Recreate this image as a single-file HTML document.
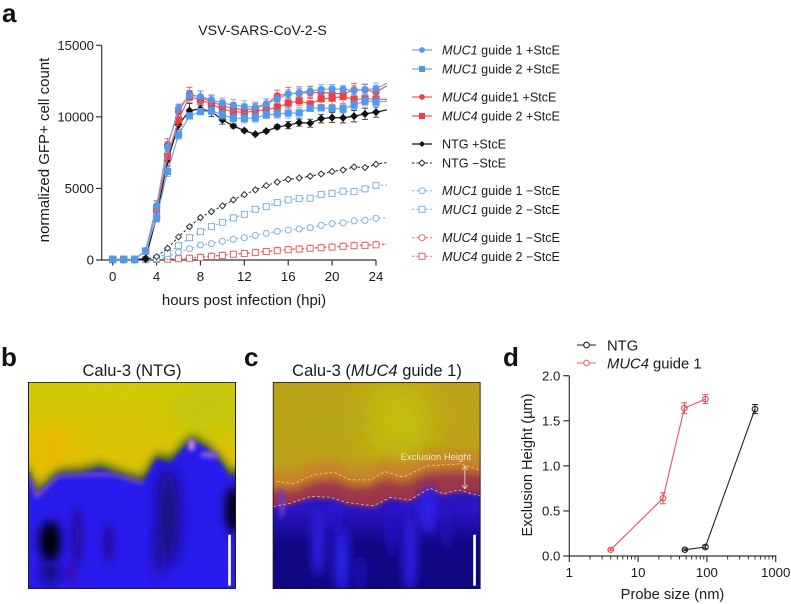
<!DOCTYPE html>
<html lang="en">
<head>
<meta charset="utf-8">
<title>VSV-SARS-CoV-2-S figure</title>
<style>
html,body{margin:0;padding:0;background:#fff;width:791px;height:604px;overflow:hidden}
svg{display:block;position:absolute;left:0;top:0}
text{font-family:"Liberation Sans",Arial,sans-serif;fill:#1a1a1a}
.tick{font-size:13.2px}
.title{font-size:15px}
.leg{font-size:12.6px}
.letter{font-size:26px;font-weight:bold;fill:#111}
.micro{font-size:16.5px}
</style>
</head>
<body>
<svg id="fig" width="791" height="604" viewBox="0 0 791 604" xmlns="http://www.w3.org/2000/svg">
  <defs>
    <filter id="b3" filterUnits="userSpaceOnUse" x="-200" y="-200" width="1400" height="1400"><feGaussianBlur stdDeviation="6"/></filter>
    <filter id="b8" filterUnits="userSpaceOnUse" x="-200" y="-200" width="1400" height="1400"><feGaussianBlur stdDeviation="14"/></filter>
    <filter id="b14" filterUnits="userSpaceOnUse" x="-200" y="-200" width="1400" height="1400"><feGaussianBlur stdDeviation="24"/></filter>
    <filter id="b24" filterUnits="userSpaceOnUse" x="-200" y="-200" width="1400" height="1400"><feGaussianBlur stdDeviation="42"/></filter>
    <filter id="grain" filterUnits="userSpaceOnUse" x="0" y="0" width="800" height="800"><feTurbulence type="fractalNoise" baseFrequency="0.55" numOctaves="2" seed="4"/><feColorMatrix type="matrix" values="0 0 0 0 0  0 0 0 0 0  0 0 0 0 0  1.6 0 0 0 -0.55"/></filter>
    <linearGradient id="yellowB" x1="0" y1="0" x2="0" y2="1">
      <stop offset="0" stop-color="#d6cf08"/><stop offset="0.5" stop-color="#e6c606"/><stop offset="1" stop-color="#e0b800"/>
    </linearGradient>
    <linearGradient id="navyC" x1="0" y1="0" x2="0" y2="1">
      <stop offset="0" stop-color="#100888" stop-opacity="0"/><stop offset="0.45" stop-color="#100888" stop-opacity="1"/><stop offset="1" stop-color="#100888" stop-opacity="1"/>
    </linearGradient>
    <clipPath id="clipB"><rect x="84" y="126" width="624" height="622"/></clipPath>
    <clipPath id="clipC"><rect x="38" y="126" width="624" height="622"/></clipPath>
  </defs>

  <text class="letter" x="2" y="22">a</text>
  <text class="letter" x="1" y="366">b</text>
  <text class="letter" x="244" y="366">c</text>
  <text class="letter" x="503" y="366">d</text>

  <text x="262.5" y="35" text-anchor="middle" style="font-size:14.1px">VSV-SARS-CoV-2-S</text>
  <text class="title" x="244" y="305" text-anchor="middle">hours post infection (hpi)</text>
  <text class="title" transform="translate(49,150) rotate(-90)" text-anchor="middle">normalized GFP+ cell count</text>
  <g id="chartA"></g>

  <g>
    <g><line x1="412" x2="432" y1="50" y2="50" stroke="#6aa7ea" stroke-width="1.2"/><circle cx="422" cy="50" r="2.9" fill="#4f98ea"/><text class="leg" x="442" y="54.5"><tspan font-style="italic">MUC1</tspan> guide 1 +StcE</text></g>
    <g><line x1="412" x2="432" y1="69" y2="69" stroke="#6aa7ea" stroke-width="1.2"/><rect x="419" y="66" width="6" height="6" fill="#4f98ea"/><text class="leg" x="442" y="73.5"><tspan font-style="italic">MUC1</tspan> guide 2 +StcE</text></g>
    <g><line x1="412" x2="432" y1="97" y2="97" stroke="#ee5a60" stroke-width="1.2"/><circle cx="422" cy="97" r="2.9" fill="#ee3f44"/><text class="leg" x="442" y="101.5"><tspan font-style="italic">MUC4</tspan> guide1 +StcE</text></g>
    <g><line x1="412" x2="432" y1="116" y2="116" stroke="#ee5a60" stroke-width="1.2"/><rect x="419" y="113" width="6" height="6" fill="#ee3f44"/><text class="leg" x="442" y="120.5"><tspan font-style="italic">MUC4</tspan> guide 2 +StcE</text></g>
    <g><line x1="412" x2="432" y1="144" y2="144" stroke="#111" stroke-width="1.2"/><path d="M422 141 L425 144 L422 147 L419 144 Z" fill="#111"/><text class="leg" x="442" y="148.5">NTG +StcE</text></g>
    <g><line x1="412" x2="432" y1="163" y2="163" stroke="#222" stroke-width="1" stroke-dasharray="2.5 2"/><path d="M422 160 L425 163 L422 166 L419 163 Z" fill="#fff" stroke="#333"/><text class="leg" x="442" y="167.5">NTG −StcE</text></g>
    <g><line x1="412" x2="432" y1="190.7" y2="190.7" stroke="#7fb0e2" stroke-width="1" stroke-dasharray="2.5 2"/><circle cx="422" cy="190.7" r="3" fill="#fff" stroke="#7fb0e2"/><text class="leg" x="442" y="195.2"><tspan font-style="italic">MUC1</tspan> guide 1 −StcE</text></g>
    <g><line x1="412" x2="432" y1="209.3" y2="209.3" stroke="#7fb0e2" stroke-width="1" stroke-dasharray="2.5 2"/><rect x="419" y="206.3" width="6" height="6" fill="#fff" stroke="#7fb0e2"/><text class="leg" x="442" y="213.8"><tspan font-style="italic">MUC1</tspan> guide 2 −StcE</text></g>
    <g><line x1="412" x2="432" y1="237.7" y2="237.7" stroke="#e2666c" stroke-width="1" stroke-dasharray="2.5 2"/><circle cx="422" cy="237.7" r="3" fill="#fff" stroke="#e2666c"/><text class="leg" x="442" y="242.2"><tspan font-style="italic">MUC4</tspan> guide 1 −StcE</text></g>
    <g><line x1="412" x2="432" y1="256.3" y2="256.3" stroke="#e2666c" stroke-width="1" stroke-dasharray="2.5 2"/><rect x="419" y="253.3" width="6" height="6" fill="#fff" stroke="#e2666c"/><text class="leg" x="442" y="260.8"><tspan font-style="italic">MUC4</tspan> guide 2 −StcE</text></g>
  </g>

  <text class="micro" x="132" y="376" text-anchor="middle">Calu-3 (NTG)</text>
  <svg x="28" y="382" width="208" height="207" viewBox="84 126 624 622">
    <g clip-path="url(#clipB)">
      <rect x="84" y="126" width="624" height="622" fill="url(#yellowB)"/>
      <ellipse cx="620" cy="210" rx="120" ry="60" fill="#c4cc0c" filter="url(#b24)"/>
      <ellipse cx="160" cy="320" rx="80" ry="50" fill="#f6ba00" filter="url(#b24)"/>
      <path d="M60 400 L84 400 L110 465 L175 405 L250 400 L300 385 L340 400 L400 420 L430 425 L470 355 L510 370 L545 330 L575 300 L620 325 L665 370 L690 410 L740 395 L740 780 L60 780 Z" fill="#3c5a30" transform="translate(0,-16)" filter="url(#b8)"/>
      <path d="M60 400 L84 400 L110 465 L175 405 L250 400 L300 385 L340 400 L400 420 L430 425 L470 355 L510 370 L545 330 L575 300 L620 325 L665 370 L690 410 L740 395 L740 780 L60 780 Z" fill="#2c1ef4" filter="url(#b3)"/>
      <ellipse cx="150" cy="605" rx="32" ry="62" fill="#050308" filter="url(#b8)"/>
      <ellipse cx="150" cy="700" rx="28" ry="36" fill="#180c88" filter="url(#b8)"/>
      <ellipse cx="232" cy="590" rx="11" ry="90" fill="#28087a" filter="url(#b8)"/>
      <ellipse cx="215" cy="700" rx="8" ry="36" fill="#50087c" filter="url(#b8)"/>
      <ellipse cx="326" cy="610" rx="10" ry="60" fill="#22086e" filter="url(#b8)"/>
      <ellipse cx="505" cy="530" rx="28" ry="150" fill="#120a60" filter="url(#b14)"/>
      <ellipse cx="475" cy="650" rx="12" ry="70" fill="#221296" filter="url(#b8)"/>
      <ellipse cx="700" cy="510" rx="24" ry="70" fill="#04020c" filter="url(#b8)"/>
      <ellipse cx="575" cy="315" rx="11" ry="18" fill="#c890e0" filter="url(#b3)"/>
      <ellipse cx="630" cy="345" rx="30" ry="10" fill="#8060e8" filter="url(#b3)"/>
      <path d="M84 405 L110 470 L175 408 L250 404 L340 404 L430 430" fill="none" stroke="#8a58d0" stroke-width="8" filter="url(#b3)"/>
      <rect x="84" y="126" width="624" height="622" filter="url(#grain)" opacity=".1"/>
      <rect x="685" y="585" width="8" height="153" fill="#fff"/>
    </g>
    <rect x="85" y="127" width="622" height="620" fill="none" stroke="#1a1a1a" stroke-width="3"/>
  </svg>

  <text class="micro" x="377" y="376" text-anchor="middle">Calu-3 (<tspan font-style="italic">MUC4</tspan> guide 1)</text>
  <svg x="272.7" y="382" width="208" height="207" viewBox="38 126 624 622">
    <g clip-path="url(#clipC)">
      <rect x="38" y="126" width="624" height="622" fill="#c4aa1a"/>
      <ellipse cx="410" cy="240" rx="110" ry="110" fill="#ccc60e" filter="url(#b24)"/>
      <ellipse cx="200" cy="240" rx="130" ry="60" fill="#c0ae16" filter="url(#b24)"/>
      <path d="M0 385 L100 392 L160 365 L220 357 L270 380 L330 380 L375 355 L430 372 L500 338 L600 332 L720 350 L720 770 L0 770 Z" fill="#d08c2c" filter="url(#b8)"/>
      <path d="M0 445 L100 452 L160 425 L220 417 L270 440 L330 440 L375 415 L430 432 L500 398 L600 392 L720 410 L720 770 L0 770 Z" fill="#a4384e" filter="url(#b8)"/>
      <path d="M0 500 L90 490 L150 470 L210 472 L260 488 L340 498 L390 473 L450 480 L510 445 L550 462 L595 450 L720 468 L720 770 L0 770 Z" fill="#2e14cc" transform="translate(0,6)" filter="url(#b3)"/>
      <rect x="38" y="510" width="624" height="238" fill="url(#navyC)"/>
      <ellipse cx="65" cy="490" rx="8" ry="45" fill="#6a40d8" filter="url(#b3)"/>
      <ellipse cx="175" cy="610" rx="20" ry="100" fill="#2e20ee" filter="url(#b8)"/>
      <ellipse cx="245" cy="660" rx="24" ry="100" fill="#2e20f4" filter="url(#b8)"/>
      <ellipse cx="225" cy="530" rx="10" ry="50" fill="#2c1cea" filter="url(#b8)"/>
      <ellipse cx="395" cy="570" rx="14" ry="80" fill="#2818d0" filter="url(#b8)"/>
      <ellipse cx="450" cy="640" rx="22" ry="115" fill="#2e20ee" filter="url(#b8)"/>
      <ellipse cx="505" cy="510" rx="26" ry="70" fill="#3020f4" filter="url(#b8)"/>
      <ellipse cx="560" cy="560" rx="10" ry="80" fill="#2212c0" filter="url(#b8)"/>
      <ellipse cx="300" cy="700" rx="14" ry="50" fill="#2014c8" filter="url(#b8)"/>
      <rect x="38" y="126" width="624" height="622" filter="url(#grain)" opacity=".16"/>
      <path d="M50 425 L100 432 L160 405 L220 397 L270 420 L330 420 L375 395 L430 412 L500 378 L600 372 L660 390" fill="none" stroke="#f4d890" stroke-width="2.2" stroke-dasharray="8 7"/>
      <path d="M40 500 L90 490 L150 470 L210 472 L260 488 L340 498 L390 473 L450 480 L510 445 L550 462 L595 450 L660 468" fill="none" stroke="#f0c8e8" stroke-width="2.2" stroke-dasharray="8 7"/>
      <g stroke="#f4e0d0" stroke-width="2.4" fill="none">
        <line x1="615" y1="380" x2="615" y2="445"/>
        <path d="M607 390 L615 379 L623 390 M607 436 L615 447 L623 436"/>
      </g>
      <text x="422" y="361" style="font-size:28.5px;fill:#f2ecc4">Exclusion Height</text>
      <rect x="640" y="585" width="8" height="153" fill="#fff"/>
    </g>
    <rect x="39" y="127" width="622" height="620" fill="none" stroke="#1a1a1a" stroke-width="3"/>
  </svg>

  <g>
    <g><line x1="577" x2="596" y1="345" y2="345" stroke="#222" stroke-width="1.1"/><circle cx="586.5" cy="345" r="2.8" fill="#fff" stroke="#222" stroke-width="1.1"/><text x="607" y="350.5" style="font-size:14.8px">NTG</text></g>
    <g><line x1="577" x2="596" y1="363" y2="363" stroke="#e2666c" stroke-width="1.1"/><circle cx="586.5" cy="363" r="2.8" fill="#fff" stroke="#e2666c" stroke-width="1.1"/><text x="607" y="368.5" style="font-size:14.8px"><tspan font-style="italic">MUC4</tspan> guide 1</text></g>
  </g>
  <text class="title" x="672.5" y="599" text-anchor="middle" style="font-size:14.7px">Probe size (nm)</text>
  <text class="title" transform="translate(532,465) rotate(-90)" text-anchor="middle" style="font-size:14.6px">Exclusion Height (µm)</text>
  <g id="chartD"></g>
</svg>

<script>
// ---- Panel a data ----
const hours = [0,1,2,3,4,5,6,7,8,9,10,11,12,13,14,15,16,17,18,19,20,21,22,23,24,25];
const aXTicks = [0,4,8,12,16,20,24];
const aYTicks = [0,5000,10000,15000];
const muc4g1Minus = [20,20,20,30,50,70,100,140,210,280,350,420,470,540,610,680,750,790,840,890,930,980,1030,1050,1100,1120];
const muc4g2Minus = [20,20,20,30,40,60,90,120,180,250,320,400,450,520,590,650,720,760,810,860,900,950,1000,1020,1060,1080];
const muc1g1Minus = [20,20,20,30,70,230,540,790,1050,1140,1310,1450,1560,1720,1860,2000,2100,2170,2260,2420,2540,2590,2730,2770,2910,2960];
const muc1g2Minus = [20,20,20,30,120,470,1000,1560,1980,2330,2630,2940,3190,3540,3730,4010,4200,4290,4310,4570,4660,4800,4780,4970,5220,5240];
const ntgMinus = [20,20,20,30,230,820,1610,2330,2960,3380,3780,4200,4570,4900,5200,5450,5640,5730,5850,6010,6180,6290,6500,6460,6690,6810];
const ntgPlus = [30,30,30,100,3000,6950,9440,10440,10560,10370,9790,9370,9040,8790,9000,9300,9420,9600,9560,9880,9950,9930,10050,10210,10330,10490];
const muc4g1Plus = [50,50,50,650,3730,8040,10370,11610,11350,11070,10770,10600,10490,10580,10900,11470,11610,11660,11700,11700,11660,11610,11890,11890,11730,12170];
const muc4g2Plus = [50,50,50,620,3500,7230,9790,11420,11190,10900,10540,10370,10300,10420,10490,10680,10960,11120,10900,11260,11310,11420,11210,11260,11240,11220];
const muc1g2Plus = [50,50,50,630,2960,6180,8740,10070,10370,10420,10140,9900,9880,9930,10140,10210,10260,10280,10600,10630,10580,10580,10820,11120,11030,11100];
const muc1g1Plus = [50,50,50,630,3800,7880,10600,11500,11420,11190,10960,10820,10720,10680,10900,11240,11590,11700,11800,11910,11960,11930,11840,11910,11960,12350];
const ntgPlusErr = [0,0,0,30,300,350,300,500,250,350,300,150,100,80,100,150,250,250,280,300,350,350,400,400,350,0];
const muc4g1PlusErr = [0,0,0,60,400,450,500,450,450,400,400,400,400,350,350,400,450,450,400,350,350,400,450,400,450,0];
const muc4g2PlusErr = [0,0,0,60,350,400,400,400,350,300,350,350,350,300,300,350,350,350,450,400,450,500,350,400,350,0];
const muc1g2PlusErr = [0,0,0,50,300,350,300,200,200,250,300,350,300,300,250,300,350,350,200,200,200,300,300,350,350,0];
const muc1g1PlusErr = [0,0,0,50,350,400,300,350,400,350,350,400,400,350,350,300,300,300,350,350,300,250,350,350,400,0];

// ---- Panel d data ----
const dXTicks = [1,10,100,1000];
const dXMinor = [2,3,4,5,6,7,8,9,20,30,40,50,60,70,80,90,200,300,400,500,600,700,800,900];
const dYTicks = [0,0.5,1.0,1.5,2.0];
const ntgSize = [48,95,500];
const ntgHeight = [0.07,0.10,1.63];
const ntgHeightErr = [0.01,0.02,0.05];
const muc4Size = [4,23,47,95];
const muc4Height = [0.07,0.64,1.64,1.74];
const muc4HeightErr = [0.01,0.06,0.06,0.05];

// ---- Axis functions ----
const ax = h => 112.7 + h * 10.97;
const ay = v => 260 - v * 214.7 / 15000;
const dx = s => 569.3 + Math.log10(s) * 68.8;
const dy = v => 556 - v * 90.15;

const NS = 'http://www.w3.org/2000/svg';
function mk(parent, tag, attrs) {
  const el = document.createElementNS(NS, tag);
  for (const k in attrs) el.setAttribute(k, attrs[k]);
  parent.appendChild(el);
  return el;
}
function pts(xs, ys, fx, fy) {
  return xs.map((x, i) => fx(x).toFixed(2) + ',' + fy(ys[i]).toFixed(2)).join(' ');
}
function marker(g, shape, x, y, fill, stroke, filled) {
  const r = filled ? (shape === 'diamond' ? 3.3 : 3.6) : 3;
  if (shape === 'circle') return mk(g, 'circle', {cx: x, cy: y, r: r, fill: fill, stroke: filled ? 'none' : stroke, 'stroke-width': 1});
  if (shape === 'square') return mk(g, 'rect', {x: x - r, y: y - r, width: 2 * r, height: 2 * r, fill: fill, stroke: filled ? 'none' : stroke, 'stroke-width': 1});
  return mk(g, 'path', {d: 'M' + x + ' ' + (y - r) + 'L' + (x + r) + ' ' + y + 'L' + x + ' ' + (y + r) + 'L' + (x - r) + ' ' + y + 'Z', fill: fill, stroke: stroke, 'stroke-width': 1});
}

// ---- Panel a drawing ----
const chartA = document.getElementById('chartA');
const axisColor = '#333';
const aYAxis = mk(chartA, 'line', {x1: 101.7, x2: 101.7, y1: ay(15000), y2: ay(0), stroke: axisColor, 'stroke-width': 1.2});


const aXAxis = mk(chartA, 'line', {x1: 101.1, x2: ax(24), y1: ay(0), y2: ay(0), stroke: axisColor, 'stroke-width': 1.2});


aYTicks.forEach(v => {
  mk(chartA, 'line', {x1: 96, x2: 101.7, y1: ay(v), y2: ay(v), stroke: axisColor, 'stroke-width': 1.2});
  const t = mk(chartA, 'text', {x: 94, y: ay(v) + 4.6, 'text-anchor': 'end', class: 'tick'});
  
  
  t.textContent = v;
});
aXTicks.forEach(h => {
  mk(chartA, 'line', {x1: ax(h), x2: ax(h), y1: ay(0), y2: ay(0) + 5.5, stroke: axisColor, 'stroke-width': 1.2});
  const t = mk(chartA, 'text', {x: ax(h), y: 281, 'text-anchor': 'middle', class: 'tick'});
  
  
  t.textContent = h;
});

const blueLine = '#6aa7ea', blueFill = '#5299ec', redLine = '#ee5a60', redFill = '#ee3f44';
const blueOpen = '#7fb0e2', redOpen = '#e2666c';
const seriesNames = ['muc4-guide1-minus','muc4-guide2-minus','muc1-guide1-minus','muc1-guide2-minus','ntg-minus','ntg-plus','muc4-guide1-plus','muc4-guide2-plus','muc1-guide2-plus','muc1-guide1-plus'];
const seriesValues = [muc4g1Minus,muc4g2Minus,muc1g1Minus,muc1g2Minus,ntgMinus,ntgPlus,muc4g1Plus,muc4g2Plus,muc1g2Plus,muc1g1Plus];
const seriesErrors = [null,null,null,null,null,ntgPlusErr,muc4g1PlusErr,muc4g2PlusErr,muc1g2PlusErr,muc1g1PlusErr];
const seriesShapes = ['circle','square','circle','square','diamond','diamond','circle','square','square','circle'];
const seriesLines = [redOpen,redOpen,blueOpen,blueOpen,'#222','#111',redLine,redLine,blueLine,blueLine];
const seriesStrokes = [redOpen,redOpen,blueOpen,blueOpen,'#333','#111',redFill,redFill,blueFill,blueFill];
const seriesFills = ['#fff','#fff','#fff','#fff','#fff','#111',redFill,redFill,blueFill,blueFill];

seriesValues.forEach((vals, s) => {
  const g = mk(chartA, 'g', {});
  
  
  const dashed = seriesErrors[s] === null;
  const attrs = {points: pts(hours, vals, ax, ay), fill: 'none', stroke: seriesLines[s], 'stroke-width': dashed ? 1 : 1.2};
  if (dashed) attrs['stroke-dasharray'] = '2.5 2';
  mk(g, 'polyline', attrs);
  hours.forEach((h, i) => {
    if (h > 24) return;
    const x = ax(h), y = ay(vals[i]);
    if (seriesErrors[s] && seriesErrors[s][i] > 0) {
      const e = seriesErrors[s][i];
      const y1 = ay(vals[i] + e), y2 = ay(vals[i] - e);
      mk(g, 'path', {d: 'M' + (x - 3) + ' ' + y1 + 'H' + (x + 3) + 'M' + x + ' ' + y1 + 'V' + y2 + 'M' + (x - 3) + ' ' + y2 + 'H' + (x + 3), fill: 'none', stroke: seriesStrokes[s], 'stroke-width': 0.9, opacity: 0.8});
    }
    marker(g, seriesShapes[s], x, y, seriesFills[s], seriesStrokes[s], !dashed);
  });
});

// ---- Panel d drawing ----
const chartD = document.getElementById('chartD');
const dYAxis = mk(chartD, 'line', {x1: dx(1), x2: dx(1), y1: dy(2), y2: dy(0), stroke: axisColor, 'stroke-width': 1.2});


const dXAxis = mk(chartD, 'line', {x1: dx(1) - .6, x2: dx(1000) + .6, y1: dy(0), y2: dy(0), stroke: axisColor, 'stroke-width': 1.2});


dYTicks.forEach(v => {
  mk(chartD, 'line', {x1: dx(1) - 6, x2: dx(1), y1: dy(v), y2: dy(v), stroke: axisColor, 'stroke-width': 1.2});
  const t = mk(chartD, 'text', {x: dx(1) - 9, y: dy(v) + 4.6, 'text-anchor': 'end', class: 'tick'});
  
  
  t.textContent = v.toFixed(1);
});
dXTicks.forEach(s => {
  mk(chartD, 'line', {x1: dx(s), x2: dx(s), y1: dy(0), y2: dy(0) + 6, stroke: axisColor, 'stroke-width': 1.2});
  const t = mk(chartD, 'text', {x: dx(s), y: 577, 'text-anchor': 'middle', class: 'tick'});
  
  
  t.textContent = s;
});
dXMinor.forEach(s => {
  mk(chartD, 'line', {x1: dx(s), x2: dx(s), y1: dy(0), y2: dy(0) + 3.5, stroke: axisColor, 'stroke-width': 1});
});
const dNames = ['ntg','muc4-guide-1'];
const dSizes = [ntgSize,muc4Size];
const dHeights = [ntgHeight,muc4Height];
const dErrors = [ntgHeightErr,muc4HeightErr];
const dColors = ['#222','#e2555c'];
dSizes.forEach((sizes, s) => {
  const g = mk(chartD, 'g', {});
  
  
  mk(g, 'polyline', {points: pts(sizes, dHeights[s], dx, dy), fill: 'none', stroke: dColors[s], 'stroke-width': 1.1});
  sizes.forEach((z, i) => {
    const x = dx(z), y = dy(dHeights[s][i]), e = dErrors[s][i];
    const y1 = dy(dHeights[s][i] + e), y2 = dy(dHeights[s][i] - e);
    mk(g, 'path', {d: 'M' + (x - 3) + ' ' + y1 + 'H' + (x + 3) + 'M' + x + ' ' + y1 + 'V' + y2 + 'M' + (x - 3) + ' ' + y2 + 'H' + (x + 3), fill: 'none', stroke: dColors[s], 'stroke-width': 1});
    mk(g, 'circle', {cx: x, cy: y, r: 2.8, fill: 'none', stroke: dColors[s], 'stroke-width': 1.1});
  });
});
</script>
</body>
</html>
